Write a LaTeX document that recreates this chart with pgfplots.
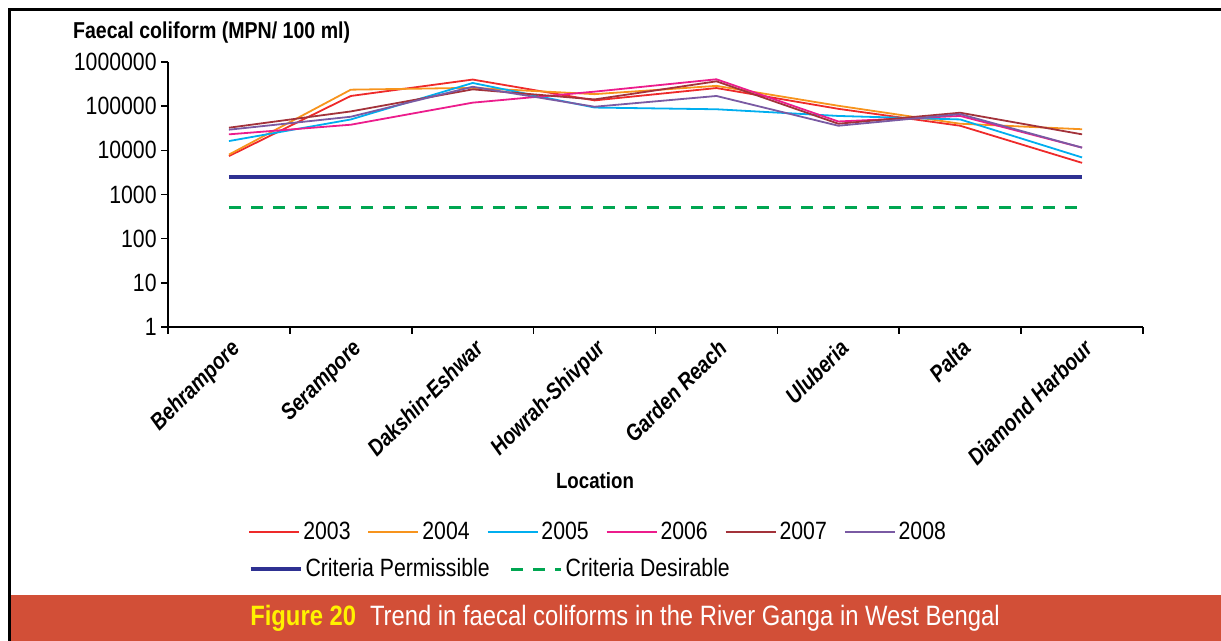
\documentclass[border=0pt]{standalone}
\usepackage{fontspec}
\setmainfont{Liberation Sans}[FakeStretch=0.85]
\usepackage{pgfplots}
\pgfplotsset{compat=1.18}

\definecolor{c2003}{HTML}{EE2A2A}
\definecolor{c2004}{HTML}{F7941D}
\definecolor{c2005}{HTML}{00AEEF}
\definecolor{c2006}{HTML}{EC1C8C}
\definecolor{c2007}{HTML}{A3323A}
\definecolor{c2008}{HTML}{7A5AA3}
\definecolor{perm}{HTML}{2E3192}
\definecolor{desi}{HTML}{00A651}
\definecolor{barred}{HTML}{D24F37}
\definecolor{capyel}{HTML}{FFF200}

% faecal coliform, MPN/100 ml; x = location index
\pgfplotstableread{
x  y03    y04    y05    y06    y07    y08
0  7400   8000   16200  23000  32500  29300
1  170000 236000 50000  38000  76000  57600
2  400000 260000 335000 120000 240000 275000
3  135000 187000 93000  213000 142000 97000
4  257000 288000 85000  406000 365000 170000
5  87000  102000 60000  45000  40000  36000
6  36000  40000  50000  60000  71000  66000
7  5200   30000  6900   11500  23000  11500
}\fcdata

\begin{document}
\begin{tikzpicture}
\useasboundingbox (0,0) rectangle (610.5pt,320.5pt);

% frame and caption bar
\fill[barred] (4pt,0) rectangle (610.5pt,23pt);
\draw[line width=1.5pt] (4.75pt,0) -- (4.75pt,315.5pt) -- (610.5pt,315.5pt);
\node at (312.5pt,11.5pt) {\fontsize{14}{16}\selectfont\textcolor{capyel}{\bfseries Figure 20}\hspace{7pt}\textcolor{white}{Trend in faecal coliforms in the River Ganga in West Bengal}};

\node[anchor=west, font=\fontsize{11.5}{13}\selectfont\bfseries] at (33pt,304pt) {Faecal coliform (MPN/ 100 ml)};
\node[font=\fontsize{11}{13}\selectfont\bfseries] at (297.5pt,80pt) {Location};

\pgfplotsset{
  legend image code/.code={\draw[#1] (0pt,0pt) -- (25pt,0pt);},
}

\begin{axis}[
    at={(84pt,157pt)}, anchor=south west,
    scale only axis, width=487.5pt, height=132.5pt,
    ymode=log, ymin=1, ymax=1000000,
    xmin=-0.5, xmax=7.5,
    axis x line*=bottom, axis y line*=left,
    axis line style={-, line width=0.9pt},
    tick align=outside,
    ytick={1,10,100,1000,10000,100000,1000000},
    yticklabels={1,10,100,1000,10000,100000,1000000},
    yminorticks=false,
    y tick label style={font=\fontsize{12.5}{14}\selectfont, inner sep=2pt},
    major tick style={black, line width=0.8pt},
    major tick length=3.5pt,
    xtick={-0.5,0.5,1.5,2.5,3.5,4.5,5.5,6.5,7.5},
    xticklabels={},
    extra x ticks={0,1,2,3,4,5,6,7},
    extra x tick labels={Behrampore,Serampore,Dakshin-Eshwar,Howrah-Shivpur,Garden Reach,Uluberia,Palta,Diamond Harbour},
    extra x tick style={major tick length=0pt},
    x tick label style={font=\fontsize{11.5}{13}\selectfont\bfseries\itshape, yshift=-4pt, rotate=45, anchor=north east, inner sep=1pt},
    legend columns=6,
    legend cell align=left,
    legend style={draw=none, fill=none, at={(axis description cs:0.076,-0.774)}, anchor=west,
        font=\fontsize{12.5}{14}\selectfont,
        /tikz/every even column/.append style={column sep=7pt},
        nodes={inner sep=1.5pt}},
    clip=false,
]
\addplot[perm, line width=2pt, forget plot] coordinates {(0,2500) (7,2500)};
\addplot[desi, line width=1.5pt, dash pattern=on 6pt off 5pt, forget plot] coordinates {(0,500) (7,500)};
\addplot[c2003, line width=0.9pt] table[x=x, y=y03] {\fcdata};
\addlegendentry{2003}
\addplot[c2004, line width=0.9pt] table[x=x, y=y04] {\fcdata};
\addlegendentry{2004}
\addplot[c2005, line width=0.9pt] table[x=x, y=y05] {\fcdata};
\addlegendentry{2005}
\addplot[c2006, line width=0.9pt] table[x=x, y=y06] {\fcdata};
\addlegendentry{2006}
\addplot[c2007, line width=0.9pt] table[x=x, y=y07] {\fcdata};
\addlegendentry{2007}
\addplot[c2008, line width=0.9pt] table[x=x, y=y08] {\fcdata};
\addlegendentry{2008}
\end{axis}

% second legend row
\begin{axis}[
    at={(84pt,157pt)}, anchor=south west,
    scale only axis, width=487.5pt, height=132.5pt,
    hide axis, xmin=0, xmax=1, ymin=0, ymax=1,
    legend columns=2,
    legend cell align=left,
    legend style={draw=none, fill=none, at={(axis description cs:0.076,-0.914)}, anchor=west,
        font=\fontsize{12.5}{14}\selectfont,
        /tikz/every even column/.append style={column sep=8.5pt},
        nodes={inner sep=1.5pt}},
]
\addlegendimage{perm, line width=2pt}
\addlegendentry{Criteria Permissible}
\addlegendimage{desi, line width=1.5pt, dash pattern=on 6pt off 5pt}
\addlegendentry{Criteria Desirable}
\end{axis}
\end{tikzpicture}
\end{document}
